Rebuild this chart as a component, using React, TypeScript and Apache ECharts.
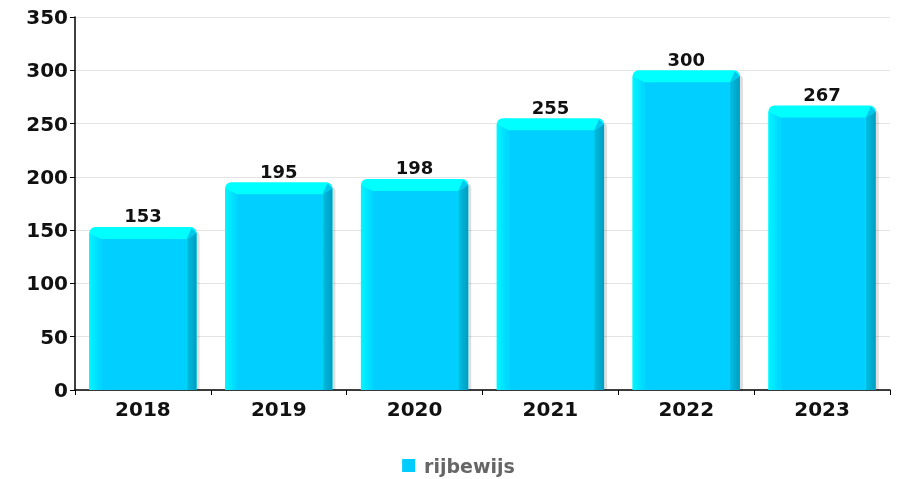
import React, { useEffect, useRef } from "react";
import * as echarts from "echarts";

const years = ["2018", "2019", "2020", "2021", "2022", "2023"];
const values = [153, 195, 198, 255, 300, 267];
const seriesName = "rijbewijs";
const yMin = 0;
const yMax = 350;
const yInterval = 50;

const FONT = "DejaVu Sans";

export default function App() {
  const ref = useRef<HTMLDivElement>(null);
  useEffect(() => {
    const chart = echarts.init(ref.current!, null, { renderer: "svg" });
    const renderItem = (params: any, api: any) => {
      const idx = api.value(0);
      const val = api.value(1);
      const top = api.coord([idx, val]);
      const base = api.coord([idx, 0]);
      const bw = api.size([1, 0])[0] * 0.79;
      const x0 = top[0] - bw / 2;
      const x1 = top[0] + bw / 2;
      const y0 = top[1];
      const y1 = base[1];
      const b = 12;
      const br = 10;
      return {
        type: "group",
        children: [
          {
            type: "rect",
            shape: { x: x0 + 3, y: y0 + 4, width: bw, height: y1 - y0 - 4, r: [5, 5, 0, 0] },
            style: { fill: "rgba(0,0,0,0.13)" },
          },
          {
            type: "rect",
            shape: { x: x0, y: y0, width: bw, height: y1 - y0, r: [6, 6, 0, 0] },
            style: { fill: "#00ffff" },
          },
          {
            type: "polygon",
            shape: { points: [[x0, y0 + 6], [x0 + b, y0 + b], [x0 + b, y1], [x0, y1]] },
            style: {
              fill: new echarts.graphic.LinearGradient(0, 0, 1, 0, [
                { offset: 0, color: "#00f6ff" },
                { offset: 1, color: "#00d4ff" },
              ]),
            },
          },
          {
            type: "polygon",
            shape: { points: [[x1, y0 + 6], [x1, y1], [x1 - br, y1], [x1 - br, y0 + b]] },
            style: {
              fill: new echarts.graphic.LinearGradient(0, 0, 1, 0, [
                { offset: 0, color: "#00c0e4" },
                { offset: 1, color: "#009cc0" },
              ]),
            },
          },
          {
            type: "polygon",
            shape: { points: [[x1 - 5, y0 + 1], [x1, y0 + 6], [x1 - br, y0 + b]] },
            style: { fill: "#00c8ec" },
          },
          {
            type: "rect",
            shape: { x: x0 + b, y: y0 + b, width: bw - b - br, height: y1 - y0 - b },
            style: { fill: "#00cfff" },
          },
          {
            type: "text",
            x: top[0],
            y: y0 - 2,
            style: {
              text: String(val),
              fill: "#111",
              font: `bold 18px '${FONT}'`,
              align: "center",
              verticalAlign: "bottom",
            },
          },
        ],
      };
    };
    chart.setOption({
      animation: false,
      grid: { left: 75, right: 27, top: 17, bottom: 89, containLabel: false },
      legend: {
        top: 451,
        left: "center",
        data: [seriesName],
        icon: "rect",
        itemWidth: 13,
        itemHeight: 13,
        itemGap: 10,
        textStyle: { color: "#666", fontFamily: FONT, fontWeight: "bold", fontSize: 19, padding: [0, 0, 0, 4] },
      },
      xAxis: {
        type: "category",
        data: years,
        axisLine: { lineStyle: { color: "#000", width: 1.5 } },
        axisTick: { show: true, length: 5, lineStyle: { color: "#000" } },
        axisLabel: { color: "#111", fontFamily: FONT, fontWeight: "bold", fontSize: 20, margin: 9 },
      },
      yAxis: {
        type: "value",
        min: yMin,
        max: yMax,
        interval: yInterval,
        axisLine: { show: true, lineStyle: { color: "#000", width: 1.5 } },
        axisTick: { show: true, length: 5, lineStyle: { color: "#000" } },
        axisLabel: { color: "#111", fontFamily: FONT, fontWeight: "bold", fontSize: 20, margin: 7 },
        splitLine: { lineStyle: { color: "#e4e4e4" } },
      },
      series: [
        {
          name: seriesName,
          type: "custom",
          renderItem,
          itemStyle: { color: "#00ccff" },
          data: values.map((v, i) => [i, v]),
          encode: { x: 0, y: 1 },
        },
      ],
    });
    return () => chart.dispose();
  }, []);
  return <div ref={ref} style={{ position: "fixed", left: 0, top: 0, width: 917, height: 479 }} />;
}
